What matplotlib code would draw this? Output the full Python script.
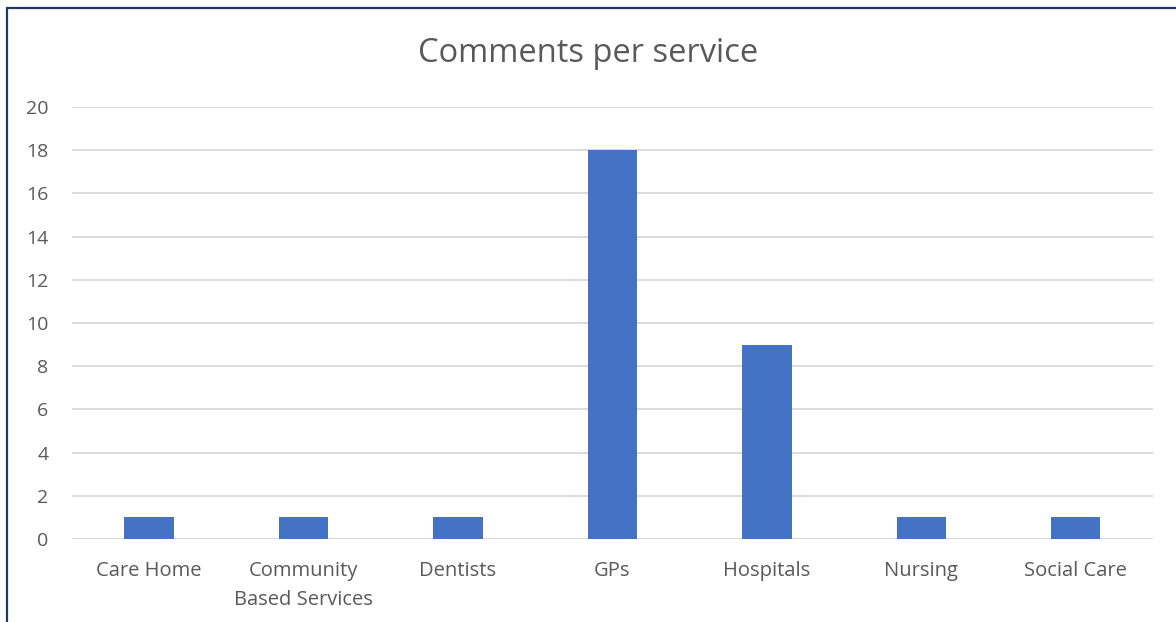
import numpy as np
import matplotlib
matplotlib.use("Agg")
from matplotlib import pyplot as plt
from matplotlib.patches import Rectangle

services = ["Care Home", "Community\nBased Services", "Dentists", "GPs",
            "Hospitals", "Nursing", "Social Care"]
comments = [1, 1, 1, 18, 9, 1, 1]
yticks = [0, 2, 4, 6, 8, 10, 12, 14, 16, 18, 20]

plt.rcParams["font.family"] = ["Open Sans", "DejaVu Sans"]

fig = plt.figure(figsize=(11.76, 6.22), dpi=100)
ax = fig.add_axes([0.0612, 0.1334, 0.9192, 0.6946])

x = np.arange(len(services))
ax.bar(x, comments, width=0.32, color="#4472C4", zorder=3)

ax.set_xlim(-0.5, len(services) - 0.5)
ax.set_ylim(0, 20)
ax.set_yticks(yticks)
ax.set_xticks(x)
ax.set_xticklabels(services, fontsize=14.5, color="#595959", linespacing=1.6)
ax.tick_params(axis="y", labelsize=14, labelcolor="#595959", length=0, pad=17)
ax.tick_params(axis="x", length=0, pad=16)
ax.grid(axis="y", color="#D9D9D9", linewidth=1.3, zorder=0)
for s in ax.spines.values():
    s.set_visible(False)
ax.axhline(0, color="#D9D9D9", linewidth=1.3, zorder=2)

fig.text(0.5, 1 - 54 / 622, "Comments per service", ha="center", va="center",
         fontsize=23.5, color="#595959")

# outer chart border (only left and top edges show)
fig.patches.append(Rectangle((7 / 1176, -0.1), 1.2, 1 - 8 / 622 + 0.1,
                             transform=fig.transFigure, fill=False,
                             edgecolor="#1F3864", linewidth=1.6))

plt.savefig("out.png", dpi=100)
plt.close()
